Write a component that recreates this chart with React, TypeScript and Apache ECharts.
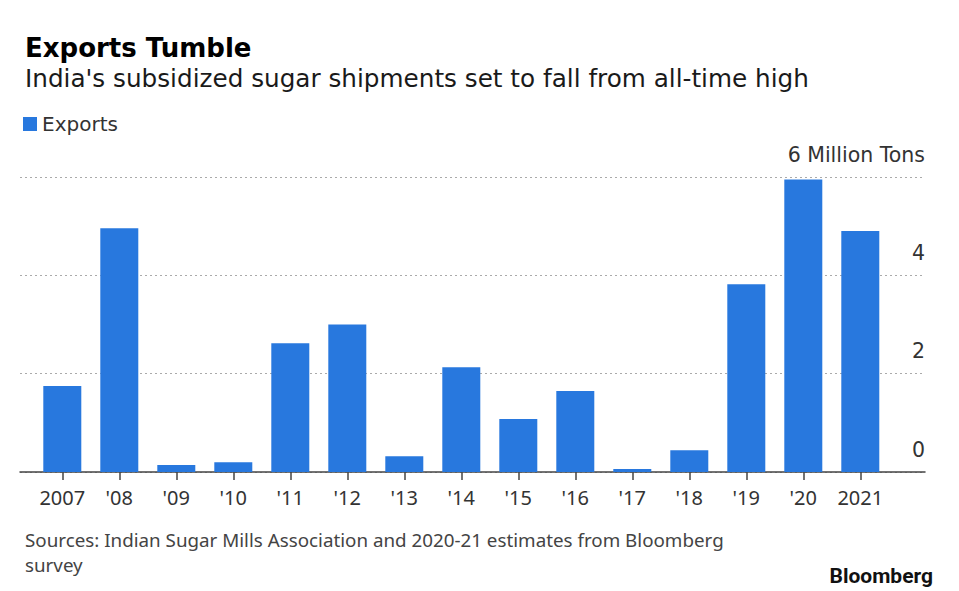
import React, { useEffect, useRef } from "react";
import * as echarts from "echarts";

// Indian sugar exports by season, million tons
const categories = ["2007", "'08", "'09", "'10", "'11", "'12", "'13", "'14", "'15", "'16", "'17", "'18", "'19", "'20", "2021"];
const exportsValues = [1.75, 4.96, 0.14, 0.2, 2.62, 3.0, 0.32, 2.13, 1.08, 1.65, 0.06, 0.44, 3.82, 5.95, 4.9];

const WIDE = "'DejaVu Sans', Verdana, sans-serif";
const NARROW = "'Noto Sans', sans-serif";
const BLUE = "#2878de";

export default function App() {
  const ref = useRef<HTMLDivElement>(null);

  useEffect(() => {
    if (!ref.current) return;
    const chart = echarts.init(ref.current, undefined, { renderer: "svg" });
    const top = 177;
    const bottom = 591 - 472;
    chart.setOption({
      animation: false,
      backgroundColor: "#ffffff",
      textStyle: { fontFamily: NARROW },
      title: [
        {
          text: "Exports Tumble",
          left: 20,
          top: 30,
          textStyle: { fontFamily: WIDE, fontSize: 26, fontWeight: "bold", color: "#000" },
        },
        {
          text: "India's subsidized sugar shipments set to fall from all-time high",
          left: 20,
          top: 61,
          textStyle: { fontFamily: WIDE, fontSize: 24.7, fontWeight: "normal", color: "#1a1a1a" },
        },
        {
          text: "Sources: Indian Sugar Mills Association and 2020-21 estimates from Bloomberg\nsurvey",
          left: 20,
          top: 522,
          textStyle: { fontFamily: NARROW, fontSize: 18.8, fontWeight: "normal", color: "#444", lineHeight: 25 },
        },
        {
          text: "Bloomberg",
          right: 21,
          top: 560,
          textStyle: { fontFamily: "'Liberation Sans Narrow', 'Roboto', sans-serif", fontSize: 21, fontWeight: "bold", color: "#111" },
        },
      ],
      legend: {
        left: 18,
        top: 109,
        icon: "rect",
        itemWidth: 14,
        itemHeight: 14,
        itemGap: 10,
        textStyle: { fontFamily: WIDE, fontSize: 20, color: "#333" },
        data: ["Exports"],
      },
      grid: [
        { left: 20, right: 34, top, bottom },
        { left: 33.8, right: 959 - 888.8, top, bottom },
      ],
      xAxis: [
        {
          gridIndex: 0,
          type: "value",
          min: 0,
          max: 1,
          axisLine: { show: true, onZero: false, lineStyle: { color: "#444", width: 1.5 } },
          axisTick: { show: false },
          axisLabel: { show: false },
          splitLine: { show: false },
        },
        {
          gridIndex: 1,
          type: "category",
          data: categories,
          axisLine: { show: false },
          axisTick: {
            show: true,
            alignWithLabel: true,
            length: 8,
            lineStyle: { color: "#444", width: 1.5 },
          },
          axisLabel: {
            margin: 15,
            fontFamily: NARROW,
            fontSize: 20,
            color: "#333",
            interval: 0,
          },
          splitLine: { show: false },
        },
      ],
      yAxis: [
        {
          gridIndex: 0,
          type: "value",
          position: "right",
          min: 0,
          max: 6,
          interval: 2,
          axisLine: { show: false },
          axisTick: { show: false },
          splitLine: { show: true, lineStyle: { color: "#aaaaaa", type: [2, 3], width: 1 } },
          axisLabel: {
            inside: true,
            margin: 0,
            verticalAlign: "bottom",
            padding: [0, 0, 12, 0],
            fontFamily: WIDE,
            fontSize: 20.5,
            color: "#333",
            formatter: (v: number) => (v === 6 ? "6 Million Tons" : String(v)),
          },
        },
        {
          gridIndex: 1,
          type: "value",
          min: 0,
          max: 6,
          show: false,
          splitLine: { show: false },
        },
      ],
      series: [
        {
          name: "Exports",
          type: "bar",
          xAxisIndex: 1,
          yAxisIndex: 1,
          data: exportsValues,
          barWidth: 38,
          itemStyle: { color: BLUE },
        },
      ],
    });
    return () => chart.dispose();
  }, []);

  return <div ref={ref} style={{ position: "fixed", left: 0, top: 0, width: 959, height: 591 }} />;
}
